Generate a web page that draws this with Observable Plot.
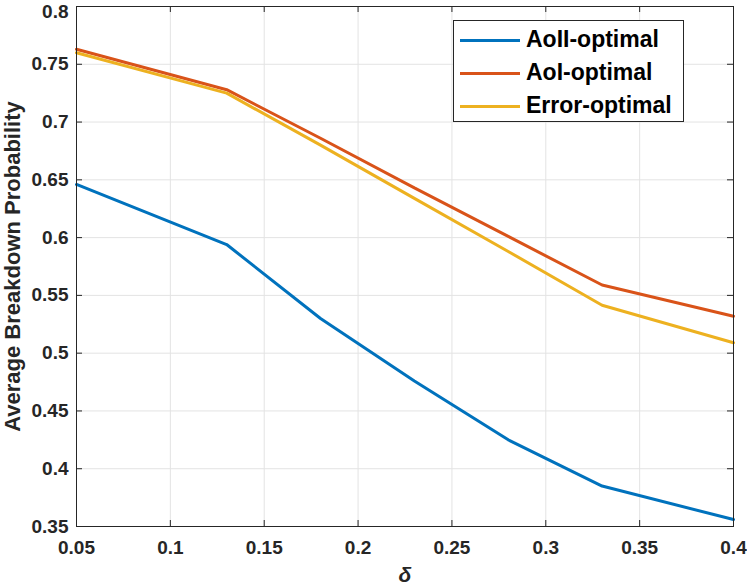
<!DOCTYPE html>
<html>
<head>
<meta charset="utf-8">
<script src="https://cdn.jsdelivr.net/npm/d3@7"></script>
<script src="https://cdn.jsdelivr.net/npm/@observablehq/plot@0.6"></script>
<style>
  html, body { margin: 0; padding: 0; background: #fff; }
  #wrap { position: relative; width: 747px; height: 586px; font-family: "Liberation Sans", Arial, sans-serif; }
  #legend { position: absolute; left: 453px; top: 20px; width: 231px; height: 102px; background: #fff; border: 1px solid #262626; box-sizing: border-box; }
  .row { position: absolute; left: 0; height: 33px; }
  .sw { position: absolute; left: 6px; width: 60px; height: 3px; }
  .lab { position: absolute; left: 72px; font-weight: bold; font-size: 23px; color: #000; white-space: nowrap; line-height: 23px; }
</style>
</head>
<body>
<div id="wrap"></div>
<script>
const delta = [0.05, 0.13, 0.18, 0.23, 0.28, 0.33, 0.40];
const aoiiOptimal = [0.646, 0.594, 0.530, 0.476, 0.425, 0.385, 0.356];
const aoiOptimal = [0.763, 0.728, 0.686, 0.643, 0.601, 0.559, 0.532];
const errorOptimal = [0.760, 0.725, 0.680, 0.634, 0.588, 0.5415, 0.509];
const seriesNames = ["AoII-optimal", "AoI-optimal", "Error-optimal"];
const seriesColors = ["#0072BD", "#D95319", "#EDB120"];
const xTicks = [0.05, 0.1, 0.15, 0.2, 0.25, 0.3, 0.35, 0.4];
const yTicks = [0.35, 0.4, 0.45, 0.5, 0.55, 0.6, 0.65, 0.7, 0.75, 0.8];

const seriesValues = [aoiiOptimal, aoiOptimal, errorOptimal];
const table = [];
seriesNames.forEach((name, i) => {
  delta.forEach((d, j) => table.push({series: name, delta: d, value: seriesValues[i][j]}));
});

const fmt = d => String(+d.toFixed(2));
const W = 747, H = 586, mL = 76, mR = 14, mT = 6, mB = 60;
const pw = W - mL - mR, ph = H - mT - mB;
const axisColor = "#262626";
const gridColor = "#e3e3e3";
const tickLen = 6;
const yMain = yTicks.slice(0, -1);
const yTop = yTicks.slice(-1);

const chart = Plot.plot({
  width: W,
  height: H,
  marginLeft: mL,
  marginRight: mR,
  marginTop: mT,
  marginBottom: mB,
  style: {fontFamily: "'Liberation Sans', Arial, sans-serif", background: "#fff", overflow: "visible"},
  x: {domain: [0.05, 0.4]},
  y: {domain: [0.35, 0.8]},
  color: {domain: seriesNames, range: seriesColors},
  marks: [
    Plot.gridX(xTicks, {stroke: gridColor, strokeOpacity: 1, strokeWidth: 1}),
    Plot.gridY(yTicks, {stroke: gridColor, strokeOpacity: 1, strokeWidth: 1}),
    Plot.tickX(xTicks, {x: d => d, stroke: axisColor, insetTop: ph - tickLen}),
    Plot.tickX(xTicks, {x: d => d, stroke: axisColor, insetBottom: ph - tickLen}),
    Plot.tickY(yTicks, {y: d => d, stroke: axisColor, insetRight: pw - tickLen}),
    Plot.tickY(yTicks, {y: d => d, stroke: axisColor, insetLeft: pw - tickLen}),
    Plot.axisX(xTicks, {tickSize: 0, tickPadding: 14, tickFormat: fmt, fontSize: 19, fontWeight: "bold", fill: axisColor, label: null}),
    Plot.axisY(yMain, {tickSize: 0, tickPadding: 8, tickFormat: fmt, fontSize: 19, fontWeight: "bold", fill: axisColor, label: null}),
    Plot.axisY(yTop, {tickSize: 0, tickPadding: 8, dy: 5, tickFormat: fmt, fontSize: 19, fontWeight: "bold", fill: axisColor, label: null}),
    Plot.line(table, {x: "delta", y: "value", z: "series", stroke: "series", strokeWidth: 3, strokeLinejoin: "miter"}),
    Plot.frame({stroke: axisColor, strokeWidth: 1}),
    Plot.text(["Average Breakdown Probability"], {text: d => d, frameAnchor: "left", textAnchor: "middle", rotate: -90, dx: -64, dy: 0, fontSize: 22, fontWeight: "bold", fill: axisColor}),
    Plot.text(["δ"], {text: d => d, frameAnchor: "bottom", textAnchor: "middle", dy: 55, fontSize: 21, fontWeight: "bold", fontStyle: "italic", fill: axisColor})
  ]
});

const wrap = document.getElementById("wrap");
wrap.appendChild(chart);

const legend = document.createElement("div");
legend.id = "legend";
seriesNames.forEach((name, i) => {
  const row = document.createElement("div");
  row.className = "row";
  row.style.top = (2 + i * 33) + "px";
  const sw = document.createElement("div");
  sw.className = "sw";
  sw.style.background = seriesColors[i];
  sw.style.top = "16px";
  const lab = document.createElement("div");
  lab.className = "lab";
  lab.style.top = "5px";
  lab.textContent = name;
  row.appendChild(sw);
  row.appendChild(lab);
  legend.appendChild(row);
});
wrap.appendChild(legend);
</script>
</body>
</html>
